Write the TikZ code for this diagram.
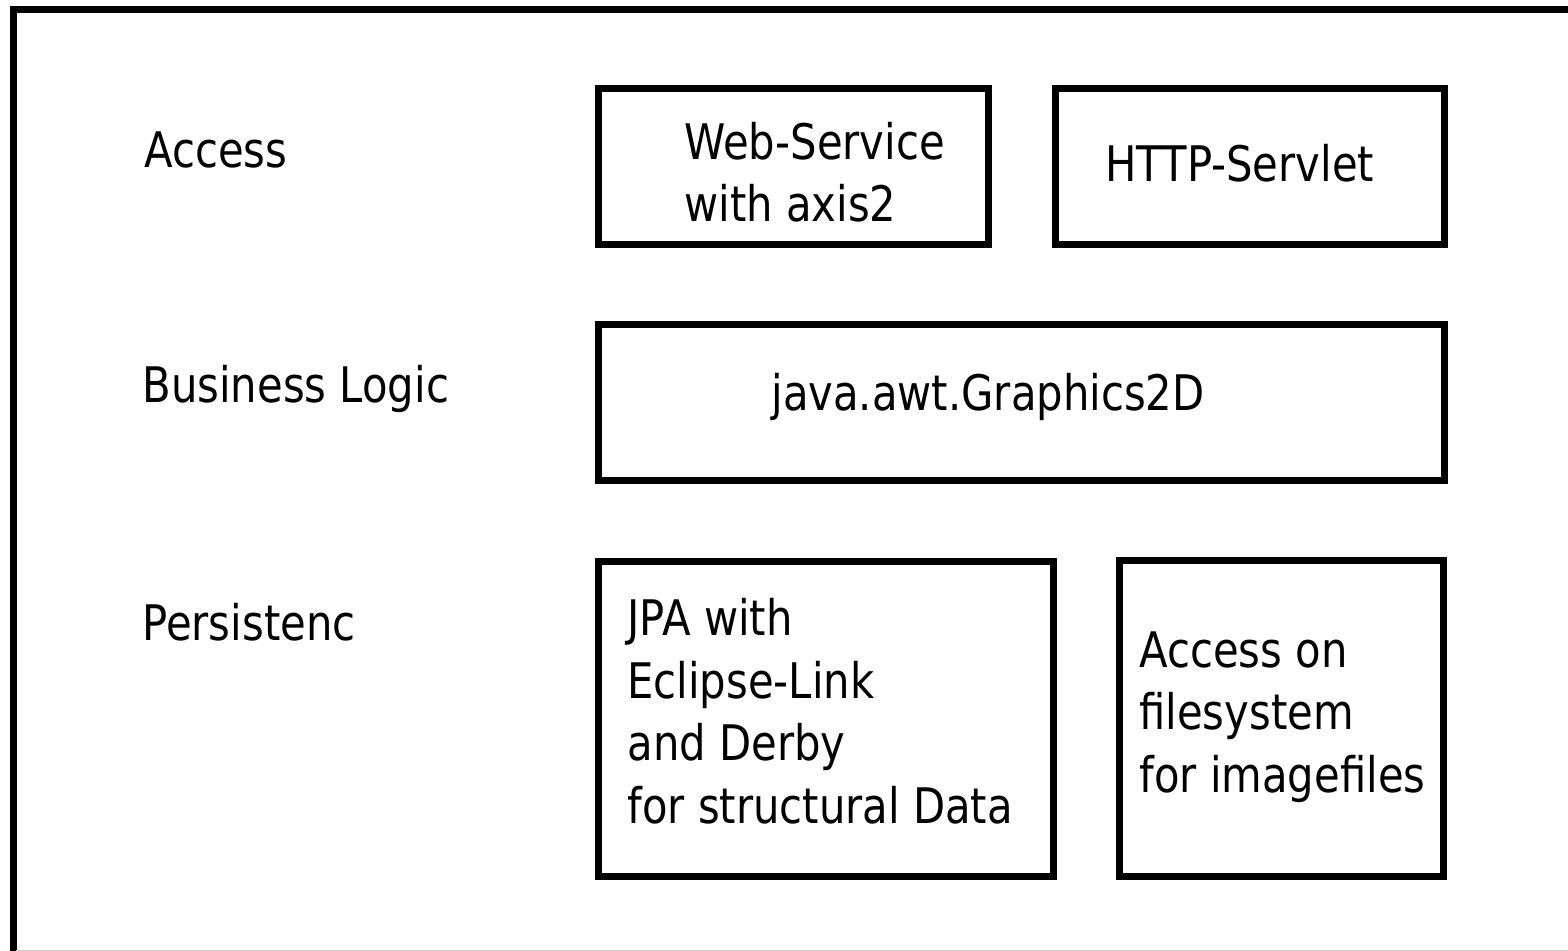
\documentclass[tikz,border=0pt]{standalone}
\usepackage{fontspec}
\usepackage{tikz}
\newfontfamily\layerfont[FakeStretch=0.852]{DejaVu Sans}
\tikzset{
  layerbox/.style={draw, line width=3.5pt, inner sep=0pt},
  layertext/.style={font=\layerfont\fontsize{24.5pt}{31.2pt}\selectfont,
    inner sep=0pt, anchor=base west, align=left}
}
\newcommand{\drawframe}{\draw[line width=3.5pt]}

\begin{document}
\begin{tikzpicture}[x=0.5pt,y=-0.5pt]
\useasboundingbox (0,0) rectangle (1568,951);
\clip (0,0) rectangle (1568,951);
\drawframe (13,970)--(13,9.5)--(1590,9.5);
\draw[black!20, line width=0.6pt] (16,950.4)--(1568,950.4);
% layer names
\node[layertext] (access) at (144,168) {Access};
\node[layertext] (logic) at (142,403) {Business Logic};
\node[layertext] (persist) at (142,640) {Persistenc};
% boxes
\node[layerbox, minimum width=195pt, minimum height=78pt] (ws) at (793,167) {};
\node[layerbox, minimum width=194.5pt, minimum height=78pt] (servlet) at (1249.5,167) {};
\node[layerbox, minimum width=423pt, minimum height=78pt] (g2d) at (1021,403) {};
\node[layerbox, minimum width=227.5pt, minimum height=157.25pt] (jpa) at (826,718.75) {};
\node[layerbox, minimum width=162.25pt, minimum height=157.5pt] (files) at (1281.25,718.5) {};
% box texts (base = last line)
\node[layertext] (wstext) at (684,221.5) {Web-Service\\with axis2};
\node[layertext] (servlettext) at (1105,182) {HTTP-Servlet};
\node[layertext] (g2dtext) at (771,410.5) {java.awt.Graphics2D};
\node[layertext] (jpatext) at (627,823) {JPA with\\Eclipse-Link\\and Derby\\for structural Data};
\node[layertext] (filestext) at (1139,792) {Access on\\filesystem\\for imagefiles};
\end{tikzpicture}
\end{document}
